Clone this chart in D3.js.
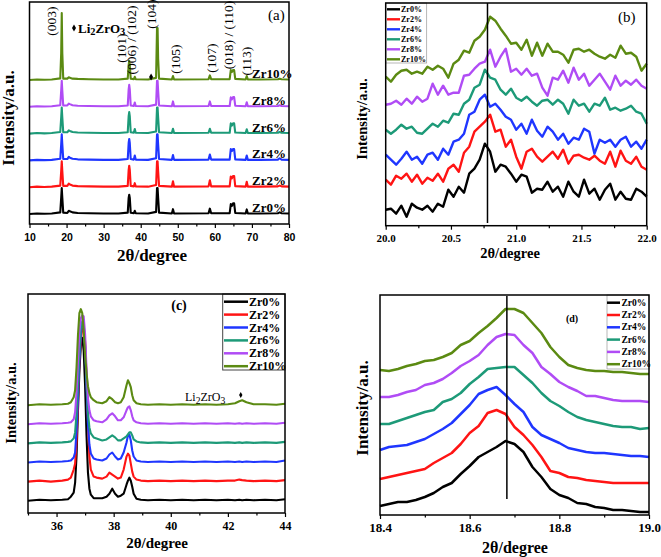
<!DOCTYPE html>
<html><head><meta charset="utf-8">
<script src="https://cdn.jsdelivr.net/npm/d3@7"></script>
<style>body{margin:0;background:#fff} svg{display:block}</style>
</head><body>
<svg id="c" width="661" height="557"></svg>
<script>
// ---------- shared ----------
const seriesNames = ["Zr0%","Zr2%","Zr4%","Zr6%","Zr8%","Zr10%"];
const colors = ["#000000","#ff1414","#1f36ff","#1d9a78","#b04cf5","#5b8a12"];

// ---------- panel (a): wide scan, values relative to each trace's baseline ----------
const aX = [10,12,14,16,18.3,18.55,18.7,18.85,19.1,20.2,20.6,20.9,21.6,23,26,30,34,36.5,36.75,36.9,37.05,37.3,38.15,38.4,38.65,42,44.15,44.4,44.55,44.7,44.95,48.4,48.7,49.0,58.3,58.65,59.0,64.0,64.3,64.6,64.9,65.2,65.5,68.3,68.6,68.9,72,77.0,77.5,78.0,80];
const aZr0  = [0,0.02,0.01,0.02,0.06,0.6,0.97,0.6,0.05,0.04,0.12,0.1,0.06,0.04,0.03,0.02,0.02,0.05,0.6,0.72,0.6,0.05,0.03,0.12,0.03,0.02,0.08,0.97,0.97,0.6,0.05,0.02,0.18,0.02,0.03,0.2,0.03,0.03,0.37,0.3,0.4,0.4,0.04,0.02,0.17,0.02,0.02,0.03,0.06,0.03,0.02];
const aZr2  = [0,0.02,0.01,0.02,0.06,0.6,0.97,0.6,0.05,0.05,0.13,0.1,0.06,0.04,0.03,0.02,0.02,0.05,0.65,0.8,0.65,0.05,0.03,0.15,0.03,0.02,0.08,0.97,0.97,0.6,0.05,0.02,0.22,0.02,0.03,0.26,0.03,0.03,0.4,0.33,0.42,0.42,0.04,0.02,0.2,0.02,0.02,0.03,0.06,0.03,0.02];
const aZr4  = [0,0.02,0.01,0.02,0.06,0.6,0.97,0.6,0.05,0.05,0.13,0.1,0.06,0.04,0.03,0.02,0.02,0.05,0.65,0.8,0.65,0.05,0.03,0.18,0.03,0.02,0.08,0.97,0.97,0.6,0.05,0.02,0.2,0.02,0.03,0.22,0.03,0.03,0.42,0.35,0.42,0.42,0.04,0.02,0.18,0.02,0.02,0.03,0.08,0.03,0.02];
const aZr6  = [0,0.02,0.01,0.02,0.06,0.6,0.97,0.6,0.05,0.05,0.12,0.1,0.06,0.04,0.03,0.02,0.02,0.05,0.65,0.8,0.65,0.05,0.03,0.17,0.03,0.02,0.08,0.97,0.97,0.6,0.05,0.02,0.18,0.02,0.03,0.18,0.03,0.03,0.38,0.3,0.38,0.38,0.04,0.02,0.16,0.02,0.02,0.03,0.06,0.03,0.02];
const aZr8  = [0,0.02,0.01,0.02,0.06,0.6,0.97,0.6,0.05,0.05,0.12,0.1,0.06,0.04,0.03,0.02,0.02,0.05,0.65,0.82,0.65,0.05,0.03,0.16,0.03,0.02,0.08,0.97,0.97,0.6,0.05,0.02,0.2,0.02,0.03,0.2,0.03,0.03,0.35,0.28,0.36,0.36,0.04,0.02,0.17,0.02,0.02,0.03,0.06,0.03,0.02];
const aZr10 = [0,0.02,0.01,0.02,0.06,1.0,2.5,1.0,0.05,0.05,0.1,0.08,0.05,0.04,0.03,0.02,0.02,0.05,0.55,0.72,0.55,0.05,0.03,0.12,0.03,0.02,0.08,1.94,1.94,0.8,0.05,0.02,0.15,0.02,0.03,0.17,0.03,0.03,0.37,0.3,0.37,0.37,0.04,0.02,0.15,0.02,0.02,0.03,0.05,0.03,0.02];
const aStep = 1;
const aTicks = [10,20,30,40,50,60,70,80];
const aMinor = [15,25,35,45,55,65,75];
const aPeakLabels = [
  {t:"(003)", x:18.7}, {t:"(101)", x:36.9}, {t:"(006) / (102)", x:38.4}, {t:"(104)", x:44.5},
  {t:"(105)", x:48.7}, {t:"(107)", x:58.7}, {t:"(018) / (110)", x:64.8}, {t:"(113)", x:68.6}];
const aLiMarker = 42.8;

// ---------- panel (b): 20-22 deg ----------
const bX = [20.00,20.04,20.08,20.12,20.16,20.20,20.24,20.28,20.32,20.36,20.40,20.44,20.48,20.52,20.56,20.60,20.64,20.68,20.72,20.76,20.80,20.84,20.88,20.92,20.96,21.00,21.04,21.08,21.12,21.16,21.20,21.24,21.28,21.32,21.36,21.40,21.44,21.48,21.52,21.56,21.60,21.64,21.68,21.72,21.76,21.80,21.84,21.88,21.92,21.96,22.00];
const bZr0  = [17,18,13,21,10,23,19,17,21,15,23,20,37,30,40,34,53,58,67,83,75,55,62,60,53,45,52,50,34,38,37,45,35,40,30,45,35,30,47,33,38,27,37,43,27,35,28,27,38,35,30];
const bZr2  = [47,42,51,48,53,45,52,43,49,46,53,45,58,62,55,74,80,95,100,105,112,95,97,80,87,70,58,75,78,70,65,70,75,68,77,63,71,72,69,67,71,66,63,75,60,76,66,63,70,60,57];
const bZr4  = [72,67,62,68,75,67,70,63,72,74,67,78,72,85,87,93,112,115,127,132,120,123,117,110,107,97,103,93,107,96,90,100,95,87,93,83,89,87,98,95,73,87,84,87,80,87,90,80,85,78,87];
const bZr6  = [97,93,97,102,98,100,94,93,98,103,100,106,104,113,112,123,127,139,142,157,149,147,137,132,138,129,126,130,125,121,126,127,122,127,123,113,127,121,123,115,123,121,129,117,119,116,118,121,115,113,103];
const bZr8  = [122,123,126,122,128,123,130,125,128,143,132,141,132,134,134,151,152,158,163,165,177,160,170,178,155,158,152,158,151,153,139,131,149,147,156,144,159,147,153,141,147,153,145,137,151,141,146,142,147,141,138];
const bZr10 = [150,145,152,156,157,153,155,153,160,157,161,158,149,163,167,176,174,186,190,197,210,206,198,191,183,184,177,187,171,184,171,183,175,175,172,164,177,178,175,177,173,170,168,172,169,181,173,174,170,156,163];
const bRefLine = 20.78;
const bTicks = [20.0,20.5,21.0,21.5,22.0];
const bMinor = [20.25,20.75,21.25,21.75];

// ---------- panel (c): 35-44 deg, values relative to each trace's baseline ----------
const cX = [35.0,35.4,35.8,36.2,36.4,36.5,36.6,36.65,36.7,36.75,36.8,36.85,36.9,36.95,37.0,37.05,37.1,37.15,37.2,37.3,37.4,37.6,37.75,37.85,37.95,38.05,38.15,38.25,38.35,38.45,38.5,38.55,38.6,38.65,38.7,38.8,38.95,39.2,39.6,40.0,40.4,40.8,41.2,41.6,42.0,42.25,42.4,42.5,42.65,42.9,43.3,43.7,44.0];
const cZr0  = [0,1,0.5,1,1.5,4,8,18,45,90,130,155,163,150,115,65,28,12,6,2.5,2.5,2.5,4,7,12,7,4,5,7,16,20,23,20,14,7,2,1,0.5,1,0.5,1,0.5,1,0.5,1,0.5,1,0.5,1,0.5,1,0.5,1.5];
const cZr2  = [0,1,0,1,2,4,12,18,40,80,120,142,152,154,140,105,60,25,12,5,4,3,5,9,7,5,3,4,12,25,28,26,18,10,5,2,1,0.5,1,0.5,1,0.5,1,0.5,1,1,2,1.5,1,0.5,1,0.5,1.5];
const cZr4  = [0,1,0.5,1,1.5,2,5,10,32,65,102,128,140,138,115,75,38,18,9,4,3,2,4,8,10,6,3,4,10,20,27,28,22,12,6,2,1,0.5,1,0.5,1,0.5,1,0.5,1,0.5,1,0.5,1,0.5,1,0.5,2];
const cZr6  = [0,1,0.5,1,1.5,2,5,11,30,60,92,114,122,120,98,62,30,16,10,6,5,3,4,6,8,6,3,3,5,7,9,11,11,8,4,2,1,0.5,1,0.5,1,0.5,1,0.5,1,0.5,1,0.5,1,0.5,1,0.5,1.5];
const cZr8  = [0,1,0.5,1,1.5,2,5,12,32,62,92,106,109,108,90,55,26,14,8,4,3,2,5,9,11,8,4,4,7,14,17,18,14,8,4,2,1,0.5,1,0.5,1,0.5,1,0.5,1,0.5,1,0.5,1,0.5,1,0.5,1.5];
const cZr10 = [0,1,0.5,1,1.5,3,8,15,38,70,92,96,92,75,50,32,19,12,8,5,3,2,4,8,6,3,2,3,8,20,25,22,18,10,5,2,1,0.5,1,0.5,1,0.5,1,0.5,1,2,4,5,3,1,1,0.5,1.5];
const cBase = 12.3, cStep = 19.1;
const cTicks = [36,38,40,42,44];
const cMinor = [35,37,39,41,43];
const cLiMarker = 42.45;

// ---------- panel (d): 18.4-19.0 deg ----------
const dX = [18.40,18.42,18.44,18.46,18.48,18.50,18.52,18.54,18.56,18.58,18.60,18.62,18.64,18.66,18.68,18.70,18.72,18.74,18.76,18.78,18.80,18.82,18.84,18.86,18.88,18.90,18.92,18.94,18.96,18.98,19.00];
const dZr0  = [9,11,13,13,15,18,22,28,32,41,49,58,63,68,74,71,63,48,38,26,20,17,12,11,8,7,5,5,4,3,3];
const dZr2  = [36,38,40,42,44,46,52,57,62,71,82,89,102,105,101,88,80,70,58,44,42,38,37,35,34,33,32,32,32,32,32];
const dZr4  = [65,68,69,70,73,76,81,86,92,101,110,121,125,128,120,111,103,88,80,76,72,67,65,63,62,62,61,60,59,59,58];
const dZr6  = [91,91,94,97,100,103,105,113,116,122,131,138,146,147,148,148,140,132,122,114,109,103,98,95,93,91,89,88,88,86,87];
const dZr8  = [118,118,120,123,125,130,132,136,142,149,154,160,170,178,181,180,170,162,148,141,133,128,124,119,119,117,115,114,114,114,113];
const dZr10 = [145,144,146,149,151,154,155,158,162,170,174,182,189,197,206,206,202,192,182,168,158,150,147,145,144,144,143,143,142,141,141];
const dRefLine = 18.683;
const dTicks = [18.4,18.6,18.8,19.0];
const dMinor = [18.5,18.7,18.9];

// ---------- drawing ----------
const svg = d3.select("#c");
const serif = "'Liberation Serif','Times New Roman',serif";
const sans = "'Liberation Sans',Arial,sans-serif";

function frame(x0,y0,x1,y1,w){
  svg.append("rect").attr("x",x0).attr("y",y0).attr("width",x1-x0).attr("height",y1-y0)
    .attr("fill","none").attr("stroke","#000").attr("stroke-width",w);
}
function xAxis(x, yPos, major, minor, fmt, font, size, labelY){
  const g = svg.append("g").attr("transform",`translate(0,${yPos})`);
  g.call(d3.axisBottom(x).tickValues(major).tickSize(4).tickFormat(fmt));
  g.select(".domain").remove();
  g.selectAll(".tick line").attr("stroke","#000").attr("stroke-width",1.2);
  g.selectAll(".tick text").attr("y", labelY - yPos).attr("dy","0.35em")
    .attr("font-family",font).attr("font-size",size).attr("font-weight","bold").attr("fill","#000");
  const g2 = svg.append("g").attr("transform",`translate(0,${yPos})`);
  g2.call(d3.axisBottom(x).tickValues(minor).tickSize(2.5).tickFormat(""));
  g2.select(".domain").remove();
  g2.selectAll(".tick line").attr("stroke","#000").attr("stroke-width",1.2);
}
function text(t,x,y,size,opts={}){
  const e = svg.append("text").attr("x",x).attr("y",y).attr("font-family",opts.font||serif)
    .attr("font-size",size).attr("font-weight",opts.weight||"normal")
    .attr("text-anchor",opts.anchor||"start").attr("dominant-baseline","central").attr("fill","#000").text(t);
  return e;
}
function vtext(t,cx,cy,size,weight){
  svg.append("text").attr("transform",`translate(${cx},${cy}) rotate(-90)`)
    .attr("text-anchor","middle").attr("dominant-baseline","central")
    .attr("font-family",serif).attr("font-size",size).attr("font-weight",weight||"normal").attr("fill","#000").text(t);
}
function liText(x,y,size,weight){
  const e = svg.append("text").attr("x",x).attr("y",y).attr("font-family",serif).attr("font-size",size)
    .attr("font-weight",weight).attr("dominant-baseline","central").attr("fill","#000");
  e.append("tspan").text("Li");
  e.append("tspan").attr("dy",size*0.25).attr("font-size",size*0.8).text("2");
  e.append("tspan").attr("dy",-size*0.25).text("ZrO");
  e.append("tspan").attr("dy",size*0.25).attr("font-size",size*0.8).text("3");
}
function diamond(x,y,size){
  svg.append("path").attr("d",d3.symbol(d3.symbolDiamond,size)()).attr("transform",`translate(${x},${y})`).attr("fill","#000");
}

// ===== Panel (a)
{
  const x = d3.scaleLinear([10,80],[29.5,289]);
  const y = d3.scaleLinear([-0.373,7.91],[224,2]);
  const sets = [aZr0,aZr2,aZr4,aZr6,aZr8,aZr10];
  sets.forEach((s,i)=>{
    const line = d3.line().x((d,j)=>x(aX[j])).y(d=>y(d + i*aStep));
    svg.append("path").attr("d",line(s)).attr("fill","none").attr("stroke",colors[i])
      .attr("stroke-width",2.1).attr("stroke-linejoin","round");
    text(seriesNames[i], 252, y(i*aStep)-6.5, 13, {weight:"bold"});
  });
  frame(29.5,2,289,224,1.5);
  xAxis(x,224,aTicks,aMinor,d3.format("d"),sans,10.5,237);
  const lp = {"(003)":[-10,21],"(101)":[-7.5,48],"(006) / (102)":[-3,40],"(104)":[-6,14],"(105)":[3,59],"(107)":[1.5,58],"(018) / (110)":[-4.5,35],"(113)":[0,61]};
  aPeakLabels.forEach(p=>{ const o=lp[p.t]; vtext(p.t, x(p.x)+o[0], o[1], 13.5); });
  diamond(74,28,14);
  liText(78,28,13,"bold");
  diamond(x(aLiMarker), y(5*aStep+0.11), 14);
  text("(a)",268,15,15);
  vtext("Intensity/a.u.",8,118,17,"bold");
  text("2θ/degree",152,255,17,{weight:"bold",anchor:"middle"});
}

// ===== Panel (b)
{
  const x = d3.scaleLinear([20,22],[385.7,646.7]);
  const y = d3.scaleLinear([0,224],[226.7,2.7]);
  const sets = [bZr0,bZr2,bZr4,bZr6,bZr8,bZr10];
  sets.forEach((s,i)=>{
    const line = d3.line().x((d,j)=>x(bX[j])).y(d=>y(d));
    svg.append("path").attr("d",line(s)).attr("fill","none").attr("stroke",colors[i])
      .attr("stroke-width",2.4).attr("stroke-linejoin","round");
  });
  svg.append("line").attr("x1",x(bRefLine)).attr("x2",x(bRefLine)).attr("y1",3).attr("y2",223)
    .attr("stroke","#000").attr("stroke-width",1.5);
  svg.append("rect").attr("x",385.7).attr("y",3).attr("width",41).attr("height",60)
    .attr("fill","#fff").attr("stroke","#999").attr("stroke-width",0.7);
  seriesNames.forEach((n,i)=>{
    const yy = 9.3 + 10*i;
    svg.append("line").attr("x1",387).attr("x2",400).attr("y1",yy).attr("y2",yy).attr("stroke",colors[i]).attr("stroke-width",2.4);
    text(n,401,yy,8,{weight:"bold"});
  });
  frame(385.7,3,646.7,225.7,1.5);
  xAxis(x,225.7,bTicks,bMinor,d3.format(".1f"),serif,11,238);
  text("(b)",618,17,15);
  vtext("Intensity/a.u.",362,119,14.5,"bold");
  text("2θ/degree",510,253,14.5,{weight:"bold",anchor:"middle"});
}

// ===== Panel (c)
{
  const x = d3.scaleLinear([35,44],[28,285]);
  const y = d3.scaleLinear([0,219],[513,294]);
  const sets = [cZr0,cZr2,cZr4,cZr6,cZr8,cZr10];
  sets.forEach((s,i)=>{
    const line = d3.line().x((d,j)=>x(cX[j])).y(d=>y(d + cBase + i*cStep));
    svg.append("path").attr("d",line(s)).attr("fill","none").attr("stroke",colors[i])
      .attr("stroke-width",2.1).attr("stroke-linejoin","round");
  });
  svg.append("rect").attr("x",222.7).attr("y",294).attr("width",62.3).attr("height",76)
    .attr("fill","#fff").attr("stroke","#444").attr("stroke-width",1);
  seriesNames.forEach((n,i)=>{
    const yy = 301.7 + 12.9*i;
    svg.append("line").attr("x1",224).attr("x2",248).attr("y1",yy).attr("y2",yy).attr("stroke",colors[i]).attr("stroke-width",2.5);
    text(n,249,yy,12,{weight:"bold"});
  });
  frame(28,294,285,513,1.5);
  xAxis(x,513,cTicks,cMinor,d3.format("d"),serif,12,526);
  liText(185,397,12,"normal");
  diamond(x(cLiMarker), 395, 10);
  text("(c)",179,305,14,{weight:"bold",anchor:"middle"});
  vtext("Intensity/a.u.",11,403,14.5,"bold");
  text("2θ/degree",157,543,15,{weight:"bold",anchor:"middle"});
}

// ===== Panel (d)
{
  const x = d3.scaleLinear([18.4,19.0],[380,649]);
  const y = d3.scaleLinear([0,220],[515,295]);
  const sets = [dZr0,dZr2,dZr4,dZr6,dZr8,dZr10];
  sets.forEach((s,i)=>{
    const line = d3.line().x((d,j)=>x(dX[j])).y(d=>y(d));
    svg.append("path").attr("d",line(s)).attr("fill","none").attr("stroke",colors[i])
      .attr("stroke-width",2.5).attr("stroke-linejoin","round");
  });
  svg.append("line").attr("x1",x(dRefLine)).attr("x2",x(dRefLine)).attr("y1",296).attr("y2",499)
    .attr("stroke","#000").attr("stroke-width",1.5);
  svg.append("rect").attr("x",607).attr("y",295).attr("width",42).attr("height",74)
    .attr("fill","#fff").attr("stroke","#999").attr("stroke-width",0.7);
  seriesNames.forEach((n,i)=>{
    const yy = 302.7 + 12.3*i;
    svg.append("line").attr("x1",607).attr("x2",620).attr("y1",yy).attr("y2",yy).attr("stroke",colors[i]).attr("stroke-width",2.5);
    text(n,621.5,yy,9.5,{weight:"bold"});
  });
  frame(380,295,649,515,1.5);
  xAxis(x,515,dTicks,dMinor,d3.format(".1f"),serif,13,527);
  text("(d)",572,318,10,{weight:"bold",anchor:"middle"});
  vtext("Intensity/a.u.",362,408,17,"bold");
  text("2θ/degree",515,547,16,{weight:"bold",anchor:"middle"});
}
</script>
</body></html>
